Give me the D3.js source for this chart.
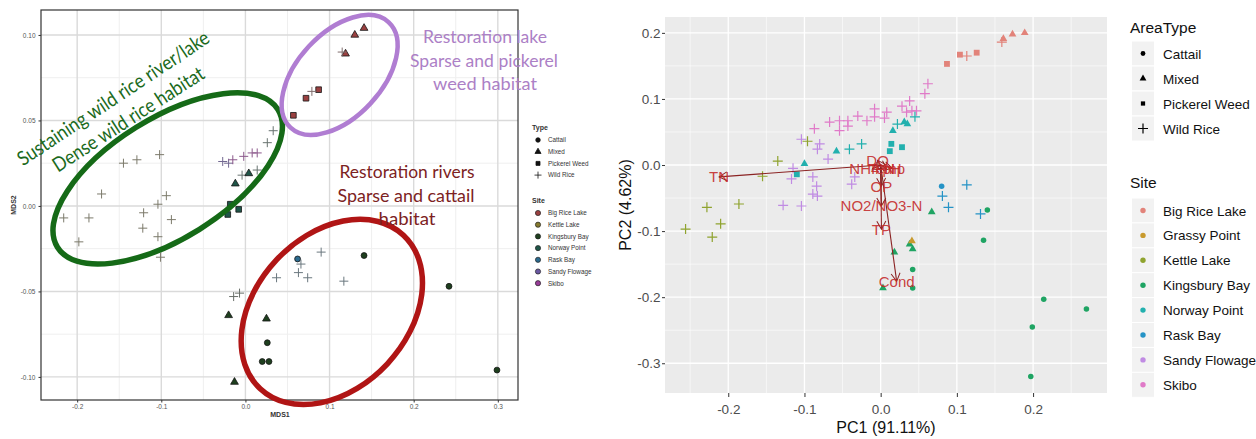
<!DOCTYPE html>
<html>
<head>
<meta charset="utf-8">
<script src="https://cdn.jsdelivr.net/npm/d3@7"></script>
<style>
  body { margin: 0; background: #fff; }
  svg { display: block; }
</style>
</head>
<body>
<svg id="chart" width="1256" height="439"></svg>
<script>
// ---------------- data ----------------
const areaTypes = ["Cattail", "Mixed", "Pickerel Weed", "Wild Rice"];

// left panel (NMDS)
const nmdsSites = ["Big Rice Lake", "Kettle Lake", "Kingsbury Bay", "Norway Point", "Rask Bay", "Sandy Flowage", "Skibo"];
const nmdsSiteColors = ["#9a4040", "#857a2e", "#1e3f1e", "#1f5548", "#2b6a8e", "#6a58a2", "#983c98"];
const nmdsXTicks = [-0.2, -0.1, 0.0, 0.1, 0.2, 0.3];
const nmdsXMinor = [-0.15, -0.05, 0.05, 0.15, 0.25];
const nmdsYTicks = [-0.10, -0.05, 0.00, 0.05, 0.10];
const nmdsYMinor = [-0.075, -0.025, 0.025, 0.075];

// [site, type, MDS1, MDS2]
const nmdsPoints = [
  ["Big Rice Lake", "Pickerel Weed", 0.057, 0.053],
  ["Big Rice Lake", "Pickerel Weed", 0.072, 0.063],
  ["Big Rice Lake", "Pickerel Weed", 0.087, 0.068],
  ["Big Rice Lake", "Mixed", 0.119, 0.089],
  ["Big Rice Lake", "Mixed", 0.130, 0.100],
  ["Big Rice Lake", "Mixed", 0.141, 0.104],
  ["Big Rice Lake", "Wild Rice", 0.079, 0.067],
  ["Big Rice Lake", "Wild Rice", 0.115, 0.090],
  ["Kettle Lake", "Wild Rice", -0.145, 0.025],
  ["Kettle Lake", "Wild Rice", -0.129, 0.027],
  ["Kettle Lake", "Wild Rice", -0.102, 0.030],
  ["Kettle Lake", "Wild Rice", -0.171, 0.007],
  ["Kettle Lake", "Wild Rice", -0.094, 0.006],
  ["Kettle Lake", "Wild Rice", -0.104, 0.001],
  ["Kettle Lake", "Wild Rice", -0.121, -0.004],
  ["Kettle Lake", "Wild Rice", -0.216, -0.007],
  ["Kettle Lake", "Wild Rice", -0.186, -0.007],
  ["Kettle Lake", "Wild Rice", -0.122, -0.013],
  ["Kettle Lake", "Wild Rice", -0.104, -0.018],
  ["Kettle Lake", "Wild Rice", -0.088, -0.008],
  ["Kettle Lake", "Wild Rice", -0.198, -0.021],
  ["Kettle Lake", "Wild Rice", -0.101, -0.030],
  ["Norway Point", "Wild Rice", -0.004, 0.018],
  ["Norway Point", "Wild Rice", 0.014, 0.021],
  ["Norway Point", "Wild Rice", 0.026, 0.037],
  ["Norway Point", "Wild Rice", 0.033, 0.044],
  ["Norway Point", "Mixed", -0.012, 0.013],
  ["Norway Point", "Mixed", 0.004, 0.019],
  ["Norway Point", "Pickerel Weed", -0.021, -0.005],
  ["Norway Point", "Pickerel Weed", -0.008, -0.002],
  ["Norway Point", "Pickerel Weed", -0.018, 0.001],
  ["Sandy Flowage", "Wild Rice", -0.027, 0.026],
  ["Sandy Flowage", "Wild Rice", -0.020, 0.025],
  ["Skibo", "Wild Rice", -0.015, 0.027],
  ["Skibo", "Wild Rice", -0.002, 0.029],
  ["Skibo", "Wild Rice", 0.008, 0.031],
  ["Skibo", "Wild Rice", 0.014, 0.031],
  ["Kingsbury Bay", "Wild Rice", -0.014, -0.053],
  ["Kingsbury Bay", "Wild Rice", -0.007, -0.051],
  ["Kingsbury Bay", "Mixed", -0.020, -0.064],
  ["Kingsbury Bay", "Mixed", 0.025, -0.066],
  ["Kingsbury Bay", "Mixed", -0.013, -0.103],
  ["Kingsbury Bay", "Cattail", 0.026, -0.080],
  ["Kingsbury Bay", "Cattail", 0.020, -0.091],
  ["Kingsbury Bay", "Cattail", 0.028, -0.091],
  ["Kingsbury Bay", "Cattail", 0.141, -0.029],
  ["Kingsbury Bay", "Cattail", 0.242, -0.047],
  ["Kingsbury Bay", "Cattail", 0.299, -0.096],
  ["Rask Bay", "Cattail", 0.062, -0.031],
  ["Rask Bay", "Wild Rice", 0.066, -0.034],
  ["Rask Bay", "Wild Rice", 0.063, -0.039],
  ["Rask Bay", "Wild Rice", 0.074, -0.042],
  ["Rask Bay", "Wild Rice", 0.037, -0.042],
  ["Rask Bay", "Wild Rice", 0.090, -0.027],
  ["Rask Bay", "Wild Rice", 0.117, -0.044]
];

// right panel (PCA)
const pcaSites = ["Big Rice Lake", "Grassy Point", "Kettle Lake", "Kingsbury Bay", "Norway Point", "Rask Bay", "Sandy Flowage", "Skibo"];
const pcaSiteColors = ["#E2837A", "#C89A2E", "#8FA32E", "#1FA463", "#22B0AE", "#2593C6", "#C08BE3", "#E07AC8"];
const pcaXTicks = [-0.2, -0.1, 0.0, 0.1, 0.2];
const pcaXMinor = [-0.25, -0.15, -0.05, 0.05, 0.15, 0.25];
const pcaYTicks = [-0.3, -0.2, -0.1, 0.0, 0.1, 0.2];
const pcaYMinor = [-0.25, -0.15, -0.05, 0.05, 0.15];

// [site, type, PC1, PC2]
const pcaPoints = [
  ["Big Rice Lake", "Mixed", 0.161, 0.191],
  ["Big Rice Lake", "Mixed", 0.173, 0.198],
  ["Big Rice Lake", "Mixed", 0.189, 0.200],
  ["Big Rice Lake", "Wild Rice", 0.159, 0.186],
  ["Big Rice Lake", "Wild Rice", 0.113, 0.165],
  ["Big Rice Lake", "Pickerel Weed", 0.087, 0.153],
  ["Big Rice Lake", "Pickerel Weed", 0.104, 0.167],
  ["Big Rice Lake", "Pickerel Weed", 0.126, 0.170],
  ["Skibo", "Wild Rice", -0.087, 0.055],
  ["Skibo", "Wild Rice", -0.067, 0.065],
  ["Skibo", "Wild Rice", -0.054, 0.067],
  ["Skibo", "Wild Rice", -0.054, 0.052],
  ["Skibo", "Wild Rice", -0.043, 0.067],
  ["Skibo", "Wild Rice", -0.043, 0.059],
  ["Skibo", "Wild Rice", -0.030, 0.074],
  ["Skibo", "Wild Rice", -0.018, 0.067],
  ["Skibo", "Wild Rice", -0.008, 0.085],
  ["Skibo", "Wild Rice", -0.008, 0.073],
  ["Skibo", "Wild Rice", 0.008, 0.080],
  ["Skibo", "Wild Rice", 0.005, 0.071],
  ["Skibo", "Wild Rice", 0.028, 0.089],
  ["Skibo", "Wild Rice", 0.038, 0.097],
  ["Skibo", "Wild Rice", 0.041, 0.082],
  ["Skibo", "Wild Rice", 0.047, 0.082],
  ["Skibo", "Wild Rice", 0.034, 0.080],
  ["Skibo", "Wild Rice", 0.058, 0.108],
  ["Skibo", "Wild Rice", 0.062, 0.123],
  ["Sandy Flowage", "Wild Rice", -0.104, 0.039],
  ["Sandy Flowage", "Wild Rice", -0.080, 0.032],
  ["Sandy Flowage", "Wild Rice", -0.083, 0.024],
  ["Sandy Flowage", "Wild Rice", -0.069, 0.009],
  ["Sandy Flowage", "Wild Rice", -0.115, -0.005],
  ["Sandy Flowage", "Wild Rice", -0.117, -0.021],
  ["Sandy Flowage", "Wild Rice", -0.089, -0.018],
  ["Sandy Flowage", "Wild Rice", -0.084, -0.032],
  ["Sandy Flowage", "Wild Rice", -0.089, -0.044],
  ["Sandy Flowage", "Wild Rice", -0.083, -0.047],
  ["Sandy Flowage", "Wild Rice", -0.128, -0.061],
  ["Sandy Flowage", "Wild Rice", -0.104, -0.062],
  ["Sandy Flowage", "Wild Rice", -0.034, -0.018],
  ["Sandy Flowage", "Wild Rice", -0.038, -0.029],
  ["Kettle Lake", "Wild Rice", -0.096, 0.036],
  ["Kettle Lake", "Wild Rice", -0.135, 0.006],
  ["Kettle Lake", "Wild Rice", -0.155, -0.017],
  ["Kettle Lake", "Wild Rice", -0.228, -0.064],
  ["Kettle Lake", "Wild Rice", -0.186, -0.059],
  ["Kettle Lake", "Wild Rice", -0.256, -0.097],
  ["Kettle Lake", "Wild Rice", -0.210, -0.089],
  ["Kettle Lake", "Wild Rice", -0.221, -0.109],
  ["Norway Point", "Mixed", -0.058, 0.021],
  ["Norway Point", "Mixed", -0.100, 0.002],
  ["Norway Point", "Mixed", 0.016, 0.052],
  ["Norway Point", "Mixed", 0.031, 0.065],
  ["Norway Point", "Mixed", 0.035, 0.062],
  ["Norway Point", "Wild Rice", -0.041, 0.024],
  ["Norway Point", "Wild Rice", -0.025, 0.032],
  ["Norway Point", "Wild Rice", 0.022, 0.062],
  ["Norway Point", "Wild Rice", 0.045, 0.073],
  ["Norway Point", "Pickerel Weed", -0.110, -0.014],
  ["Norway Point", "Pickerel Weed", 0.014, 0.032],
  ["Norway Point", "Pickerel Weed", 0.012, 0.021],
  ["Norway Point", "Pickerel Weed", 0.028, 0.027],
  ["Rask Bay", "Cattail", 0.080, -0.032],
  ["Rask Bay", "Wild Rice", 0.081, -0.047],
  ["Rask Bay", "Wild Rice", 0.089, -0.064],
  ["Rask Bay", "Wild Rice", 0.113, -0.030],
  ["Rask Bay", "Wild Rice", 0.131, -0.074],
  ["Kingsbury Bay", "Mixed", 0.067, -0.071],
  ["Kingsbury Bay", "Mixed", 0.018, -0.132],
  ["Kingsbury Bay", "Mixed", 0.038, -0.120],
  ["Kingsbury Bay", "Mixed", 0.042, -0.127],
  ["Kingsbury Bay", "Mixed", 0.003, -0.186],
  ["Kingsbury Bay", "Cattail", 0.140, -0.068],
  ["Kingsbury Bay", "Cattail", 0.135, -0.114],
  ["Kingsbury Bay", "Cattail", 0.042, -0.158],
  ["Kingsbury Bay", "Cattail", 0.042, -0.186],
  ["Kingsbury Bay", "Cattail", 0.214, -0.203],
  ["Kingsbury Bay", "Cattail", 0.270, -0.218],
  ["Kingsbury Bay", "Cattail", 0.199, -0.245],
  ["Kingsbury Bay", "Cattail", 0.197, -0.320],
  ["Grassy Point", "Mixed", 0.041, -0.115]
];

// [variable, PC1 loading, PC2 loading]
const pcaLoadings = [
  ["TN", -0.212, -0.018],
  ["Cond", 0.021, -0.176],
  ["TP", 0.001, -0.097],
  ["NO2/NO3-N", 0.001, -0.062],
  ["OP", 0.001, -0.032],
  ["NH4-N", -0.011, -0.006],
  ["Temp", 0.008, -0.006],
  ["pH", 0.015, -0.005],
  ["DO", -0.004, 0.007]
];

// ---------------- helpers ----------------
const svg = d3.select("#chart");

// marker sizes (area for filled shapes, half-arm for plus)
const nmdsShapeSize = { "Cattail": 27, "Mixed": 26, "Pickerel Weed": 32, "Wild Rice": 4.5 };
const pcaShapeSize = { "Cattail": 24, "Mixed": 26, "Pickerel Weed": 34, "Wild Rice": 5 };

function shapePath(type, size) {
  if (type === "Wild Rice") {
    return `M${-size},0H${size}M0,${-size}V${size}`;
  }
  const sym = { "Cattail": d3.symbolCircle, "Mixed": d3.symbolTriangle, "Pickerel Weed": d3.symbolSquare }[type];
  return d3.symbol(sym, size)();
}

// ================= LEFT PANEL: NMDS =================
const L = { left: 41, right: 518, top: 10, bottom: 400 };
const xL = d3.scaleLinear().domain([-0.243, 0.324]).range([L.left, L.right]);
const yL = d3.scaleLinear().domain([-0.1135, 0.1146]).range([L.bottom, L.top]);
const colL = d3.scaleOrdinal(nmdsSites, nmdsSiteColors);

const left = svg.append("g");
left.append("rect").attr("x", L.left).attr("y", L.top)
  .attr("width", L.right - L.left).attr("height", L.bottom - L.top).attr("fill", "#fff");

// grid
left.selectAll(".vminor").data(nmdsXMinor).enter().append("line")
  .attr("x1", d => xL(d)).attr("x2", d => xL(d)).attr("y1", L.top).attr("y2", L.bottom)
  .attr("stroke", "#efefef").attr("stroke-width", 1);
left.selectAll(".hminor").data(nmdsYMinor).enter().append("line")
  .attr("y1", d => yL(d)).attr("y2", d => yL(d)).attr("x1", L.left).attr("x2", L.right)
  .attr("stroke", "#efefef").attr("stroke-width", 1);
left.selectAll(".vmajor").data(nmdsXTicks).enter().append("line")
  .attr("x1", d => xL(d)).attr("x2", d => xL(d)).attr("y1", L.top).attr("y2", L.bottom)
  .attr("stroke", "#dadada").attr("stroke-width", 1.4);
left.selectAll(".hmajor").data(nmdsYTicks).enter().append("line")
  .attr("y1", d => yL(d)).attr("y2", d => yL(d)).attr("x1", L.left).attr("x2", L.right)
  .attr("stroke", "#dadada").attr("stroke-width", 1.4);

// points
left.selectAll(".pt").data(nmdsPoints).enter().append("path")
  .attr("transform", d => `translate(${xL(d[2])},${yL(d[3])})`)
  .attr("d", d => shapePath(d[1], nmdsShapeSize[d[1]]))
  .attr("fill", d => d[1] === "Wild Rice" ? "none" : colL(d[0]))
  .attr("stroke", d => d[1] === "Wild Rice"
    ? d3.interpolateRgb(colL(d[0]), "#7a7a7a")(["Sandy Flowage", "Skibo"].includes(d[0]) ? 0.45 : 0.8)
    : "#151515")
  .attr("stroke-width", d => d[1] === "Wild Rice" ? 1 : 0.8);

// border
left.append("rect").attr("x", L.left).attr("y", L.top)
  .attr("width", L.right - L.left).attr("height", L.bottom - L.top)
  .attr("fill", "none").attr("stroke", "#333").attr("stroke-width", 1.2);

// axes
const styleSmallAxis = g => {
  g.select(".domain").remove();
  g.selectAll("line").attr("stroke", "#333");
  g.selectAll("text").attr("font-size", 6.5).attr("fill", "#555").attr("font-family", "Liberation Sans, Arial, sans-serif");
};
left.append("g").attr("transform", `translate(0,${L.bottom})`)
  .call(d3.axisBottom(xL).tickValues(nmdsXTicks).tickSize(2.5).tickPadding(2).tickFormat(d => d.toFixed(1)))
  .call(styleSmallAxis);
left.append("g").attr("transform", `translate(${L.left},0)`)
  .call(d3.axisLeft(yL).tickValues(nmdsYTicks).tickSize(2.5).tickPadding(3).tickFormat(d => d.toFixed(2)))
  .call(styleSmallAxis);

left.append("text").attr("x", 280).attr("y", 417).attr("text-anchor", "middle")
  .attr("font-family", "Liberation Sans, Arial, sans-serif").attr("font-size", 7).attr("font-weight", "bold")
  .attr("fill", "#333").text("MDS1");
left.append("text").attr("transform", "translate(16,205) rotate(-90)").attr("text-anchor", "middle")
  .attr("font-family", "Liberation Sans, Arial, sans-serif").attr("font-size", 7).attr("font-weight", "bold")
  .attr("fill", "#333").text("MDS2");

// legend (left)
const legL = left.append("g").attr("font-family", "Liberation Sans, Arial, sans-serif").attr("fill", "#333");
legL.append("text").attr("x", 532).attr("y", 129.5).attr("font-size", 7).attr("font-weight", "bold").text("Type");
const typeRowsL = legL.selectAll(".trow").data(areaTypes).enter().append("g")
  .attr("transform", (d, i) => `translate(538,${140 + i * 11.7})`);
typeRowsL.append("path").attr("d", d => shapePath(d, d === "Wild Rice" ? 3.5 : 16))
  .attr("fill", d => d === "Wild Rice" ? "none" : "#111").attr("stroke", "#111").attr("stroke-width", 0.8);
typeRowsL.append("text").attr("x", 10).attr("y", 2.3).attr("font-size", 6.3).text(d => d);

legL.append("text").attr("x", 532).attr("y", 202.5).attr("font-size", 7).attr("font-weight", "bold").text("Site");
const siteRowsL = legL.selectAll(".srow").data(nmdsSites).enter().append("g")
  .attr("transform", (d, i) => `translate(538,${213 + i * 11.7})`);
siteRowsL.append("circle").attr("r", 2.6).attr("fill", d => colL(d)).attr("stroke", "#222").attr("stroke-width", 0.7);
siteRowsL.append("text").attr("x", 10).attr("y", 2.3).attr("font-size", 6.3).text(d => d);

// annotations drawn on top of the NMDS plot
const ellipses = [
  { cx: -0.0924, cy: 0.0161, rx: 130, ry: 60, rot: -32, color: "#156a17", w: 5.5 },
  { cx: 0.112, cy: 0.0766, rx: 72, ry: 42, rot: -47, color: "#b07dd2", w: 4.5 },
  { cx: 0.1027, cy: -0.062, rx: 105, ry: 76, rot: -47, color: "#b01515", w: 5.5 }
];
left.selectAll(".ell").data(ellipses).enter().append("ellipse")
  .attr("transform", d => `translate(${xL(d.cx)},${yL(d.cy)}) rotate(${d.rot})`)
  .attr("rx", d => d.rx).attr("ry", d => d.ry)
  .attr("fill", "none").attr("stroke", d => d.color).attr("stroke-width", d => d.w);

const annoFont = "Lato, Open Sans, sans-serif";
const annoLines = [
  { t: "Sustaining wild rice river/lake", x: 117, y: 104, rot: -33.6, len: 226, c: "#1b6a1c", fs: 20 },
  { t: "Dense wild rice habitat", x: 132, y: 125, rot: -32.8, len: 176, c: "#1b6a1c", fs: 20 },
  { t: "Restoration lake", x: 485, y: 43, rot: 0, len: 124, c: "#ac80c6", fs: 17 },
  { t: "Sparse and pickerel", x: 484, y: 67, rot: 0, len: 148, c: "#ac80c6", fs: 17 },
  { t: "weed habitat", x: 485, y: 90, rot: 0, len: 104, c: "#ac80c6", fs: 17 },
  { t: "Restoration rivers", x: 407, y: 178, rot: 0, len: 135, c: "#7c2222", fs: 17 },
  { t: "Sparse and cattail", x: 406, y: 202, rot: 0, len: 137, c: "#7c2222", fs: 17 },
  { t: "habitat", x: 407, y: 225, rot: 0, len: 57, c: "#7c2222", fs: 17 }
];
left.selectAll(".anno").data(annoLines).enter().append("text")
  .attr("transform", d => `translate(${d.x},${d.y}) rotate(${d.rot})`)
  .attr("text-anchor", "middle").attr("font-family", annoFont).attr("font-size", d => d.fs)
  .attr("fill", d => d.c).attr("textLength", d => d.len).attr("lengthAdjust", "spacingAndGlyphs")
  .text(d => d.t);

// ================= RIGHT PANEL: PCA =================
const R = { left: 665, right: 1107, top: 17, bottom: 393 };
const xR = d3.scaleLinear().domain([-0.283, 0.297]).range([R.left, R.right]);
const yR = d3.scaleLinear().domain([-0.345, 0.224]).range([R.bottom, R.top]);
const colR = d3.scaleOrdinal(pcaSites, pcaSiteColors);
const fontR = "Liberation Sans, Arial, sans-serif";

const right = svg.append("g");
right.append("rect").attr("x", R.left).attr("y", R.top)
  .attr("width", R.right - R.left).attr("height", R.bottom - R.top).attr("fill", "#ebebeb");

right.selectAll(".vminor").data(pcaXMinor).enter().append("line")
  .attr("x1", d => xR(d)).attr("x2", d => xR(d)).attr("y1", R.top).attr("y2", R.bottom)
  .attr("stroke", "#fff").attr("stroke-width", 0.6);
right.selectAll(".hminor").data(pcaYMinor).enter().append("line")
  .attr("y1", d => yR(d)).attr("y2", d => yR(d)).attr("x1", R.left).attr("x2", R.right)
  .attr("stroke", "#fff").attr("stroke-width", 0.6);
right.selectAll(".vmajor").data(pcaXTicks).enter().append("line")
  .attr("x1", d => xR(d)).attr("x2", d => xR(d)).attr("y1", R.top).attr("y2", R.bottom)
  .attr("stroke", "#fff").attr("stroke-width", 1.3);
right.selectAll(".hmajor").data(pcaYTicks).enter().append("line")
  .attr("y1", d => yR(d)).attr("y2", d => yR(d)).attr("x1", R.left).attr("x2", R.right)
  .attr("stroke", "#fff").attr("stroke-width", 1.3);

// points
right.selectAll(".pt").data(pcaPoints).enter().append("path")
  .attr("transform", d => `translate(${xR(d[2])},${yR(d[3])})`)
  .attr("d", d => shapePath(d[1], pcaShapeSize[d[1]]))
  .attr("fill", d => d[1] === "Wild Rice" ? "none" : colR(d[0]))
  .attr("stroke", d => d[1] === "Wild Rice" ? colR(d[0]) : "none")
  .attr("stroke-width", 1.2);

// loadings arrows
const arrowColor = "#8b2323";
svg.append("defs").append("marker")
  .attr("id", "arrowhead").attr("viewBox", "-10 -6 12 12")
  .attr("refX", 0).attr("refY", 0).attr("orient", "auto")
  .attr("markerUnits", "userSpaceOnUse").attr("markerWidth", 12).attr("markerHeight", 12)
  .append("path").attr("d", "M-8,-4.5L0,0L-8,4.5")
  .attr("fill", "none").attr("stroke", arrowColor).attr("stroke-width", 1);

right.selectAll(".load").data(pcaLoadings).enter().append("line")
  .attr("x1", xR(0)).attr("y1", yR(0))
  .attr("x2", d => xR(d[1])).attr("y2", d => yR(d[2]))
  .attr("stroke", arrowColor).attr("stroke-width", 1.1)
  .attr("marker-end", "url(#arrowhead)");
right.selectAll(".loadlab").data(pcaLoadings).enter().append("text")
  .attr("x", d => xR(d[1])).attr("y", d => yR(d[2])).attr("dy", "0.36em")
  .attr("text-anchor", "middle").attr("font-family", fontR).attr("font-size", 15)
  .attr("fill", "#c42a2a").attr("fill-opacity", 0.9)
  .text(d => d[0]);

// axes
const styleAxisR = g => {
  g.select(".domain").remove();
  g.selectAll("line").attr("stroke", "#333");
  g.selectAll("text").attr("font-size", 13.5).attr("fill", "#4d4d4d").attr("font-family", fontR);
};
right.append("g").attr("transform", `translate(0,${R.bottom})`)
  .call(d3.axisBottom(xR).tickValues(pcaXTicks).tickSize(4).tickPadding(7).tickFormat(d => d.toFixed(1)))
  .call(styleAxisR);
right.append("g").attr("transform", `translate(${R.left},0)`)
  .call(d3.axisLeft(yR).tickValues(pcaYTicks).tickSize(3).tickPadding(1.5).tickFormat(d => d.toFixed(1)))
  .call(styleAxisR);

right.append("text").attr("x", 886).attr("y", 433).attr("text-anchor", "middle")
  .attr("font-family", fontR).attr("font-size", 16).attr("fill", "#111").text("PC1 (91.11%)");
right.append("text").attr("transform", "translate(631,205) rotate(-90)").attr("text-anchor", "middle")
  .attr("font-family", fontR).attr("font-size", 16).attr("fill", "#111").text("PC2 (4.62%)");

// legend (right)
const legR = right.append("g").attr("font-family", fontR).attr("fill", "#111");
legR.append("text").attr("x", 1130).attr("y", 33).attr("font-size", 15.5).text("AreaType");
const typeRowsR = legR.selectAll(".trow").data(areaTypes).enter().append("g")
  .attr("transform", (d, i) => `translate(1143,${53.5 + i * 25})`);
typeRowsR.append("rect").attr("x", -11.5).attr("y", -12.5).attr("width", 23).attr("height", 25)
  .attr("fill", "#f2f2f2").attr("stroke", "#fff").attr("stroke-width", 1);
typeRowsR.append("path").attr("d", d => shapePath(d, d === "Wild Rice" ? 5 : (d === "Mixed" ? 20 : 18)))
  .attr("fill", d => d === "Wild Rice" ? "none" : "#000").attr("stroke", d => d === "Wild Rice" ? "#000" : "none")
  .attr("stroke-width", 1.2);
typeRowsR.append("text").attr("x", 20).attr("y", 5).attr("font-size", 13.5).text(d => d);

legR.append("text").attr("x", 1130).attr("y", 188).attr("font-size", 15.5).text("Site");
const siteRowsR = legR.selectAll(".srow").data(pcaSites).enter().append("g")
  .attr("transform", (d, i) => `translate(1143,${210.5 + i * 24.9})`);
siteRowsR.append("rect").attr("x", -11.5).attr("y", -12.5).attr("width", 23).attr("height", 25)
  .attr("fill", "#f2f2f2").attr("stroke", "#fff").attr("stroke-width", 1);
siteRowsR.append("circle").attr("r", 2.7).attr("fill", d => colR(d));
siteRowsR.append("text").attr("x", 20).attr("y", 5).attr("font-size", 13.5).text(d => d);
</script>
</body>
</html>
